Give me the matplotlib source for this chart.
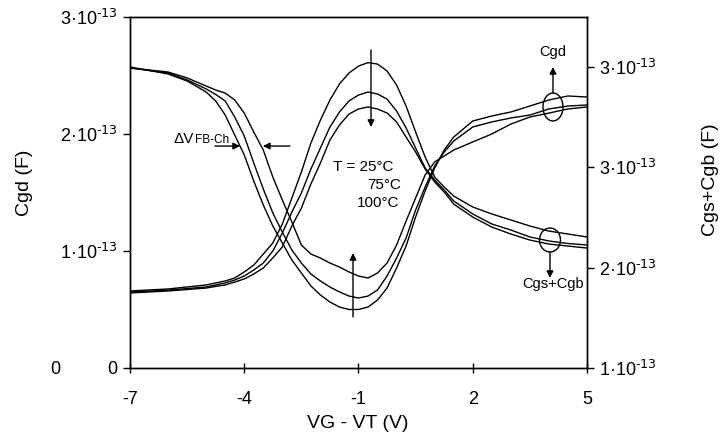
import numpy as np
import matplotlib
matplotlib.use("Agg")
import matplotlib.pyplot as plt
from matplotlib.patches import Ellipse
from matplotlib.ticker import FixedLocator, FuncFormatter

plt.rcParams["font.family"] = ["Liberation Sans", "DejaVu Sans"]
plt.rcParams["mathtext.default"] = "regular"
plt.rcParams["axes.unicode_minus"] = False

# Gate overdrive VG - VT (V)
vg = [-7, -6, -5.5, -5, -4.75, -4.5, -4.25, -4, -3.75, -3.5, -3.25, -3, -2.75,
      -2.5, -2.25, -2, -1.75, -1.5, -1.25, -1, -0.75, -0.5, -0.25, 0, 0.25,
      0.5, 0.75, 1, 1.25, 1.5, 2, 2.5, 3, 3.5, 4, 4.5, 5]

# Cgd (units of 1e-13 F) at 25, 75, 100 degC
cgd_25 = [2.573, 2.513, 2.453, 2.359, 2.282, 2.162, 1.991, 1.821, 1.598, 1.393,
          1.214, 1.068, 0.923, 0.812, 0.701, 0.624, 0.564, 0.521, 0.500, 0.500,
          0.521, 0.581, 0.684, 0.855, 1.043, 1.291, 1.513, 1.709, 1.863, 1.974,
          2.111, 2.154, 2.188, 2.239, 2.291, 2.325, 2.316]
cgd_75 = [2.564, 2.521, 2.462, 2.385, 2.338, 2.282, 2.145, 1.983, 1.752, 1.530,
          1.325, 1.162, 1.009, 0.897, 0.803, 0.744, 0.692, 0.650, 0.615, 0.598,
          0.615, 0.667, 0.786, 0.940, 1.111, 1.350, 1.547, 1.726, 1.846, 1.940,
          2.060, 2.103, 2.137, 2.162, 2.214, 2.239, 2.248]
cgd_100 = [2.564, 2.530, 2.479, 2.410, 2.376, 2.350, 2.291, 2.179, 2.017, 1.863,
           1.632, 1.436, 1.248, 1.051, 0.974, 0.940, 0.897, 0.863, 0.821, 0.786,
           0.769, 0.812, 0.897, 1.051, 1.256, 1.453, 1.650, 1.761, 1.812, 1.863,
           1.932, 2.000, 2.085, 2.145, 2.179, 2.214, 2.231]

# Cgs+Cgb (units of 1e-13 F) at 25, 75, 100 degC
cgsb_25 = [1.576, 1.591, 1.606, 1.621, 1.636, 1.651, 1.673, 1.718, 1.770, 1.852,
           1.935, 2.077, 2.271, 2.466, 2.682, 2.854, 3.004, 3.124, 3.206, 3.258,
           3.284, 3.273, 3.221, 3.116, 2.959, 2.765, 2.578, 2.428, 2.353, 2.286,
           2.204, 2.152, 2.107, 2.062, 2.024, 2.002, 1.980]
cgsb_75 = [1.568, 1.583, 1.594, 1.606, 1.621, 1.636, 1.658, 1.688, 1.733, 1.785,
           1.875, 2.009, 2.166, 2.309, 2.488, 2.645, 2.802, 2.914, 2.997, 3.041,
           3.064, 3.049, 3.011, 2.922, 2.795, 2.645, 2.496, 2.406, 2.331, 2.249,
           2.152, 2.077, 2.032, 1.980, 1.950, 1.931, 1.920]
cgsb_100 = [1.561, 1.576, 1.587, 1.598, 1.610, 1.621, 1.643, 1.666, 1.703, 1.748,
            1.823, 1.905, 2.062, 2.196, 2.376, 2.533, 2.705, 2.817, 2.899, 2.937,
            2.952, 2.937, 2.907, 2.840, 2.727, 2.615, 2.488, 2.391, 2.316, 2.226,
            2.129, 2.054, 2.002, 1.957, 1.927, 1.912, 1.897]

x_ticks = [-7, -4, -1, 2, 5]
left_ticks = [0, 1e-13, 2e-13, 3e-13]
right_ticks = [1.0e-13, 1.75e-13, 2.5e-13, 3.25e-13]
temps = ["T = 25°C", "75°C", "100°C"]

scale = 1e-13
FS_TICK = 13
FS_LABEL = 14
FS_NOTE = 10.5

fig = plt.figure(figsize=(7.22, 4.40), dpi=100)
ax = fig.add_axes([130 / 722, 1 - 368 / 440, 457 / 722, 351 / 440])
ax2 = ax.twinx()

line_kw = dict(color="black", lw=1.0, solid_joinstyle="round")
for s in (cgd_25, cgd_75, cgd_100):
    ax.plot(vg, np.array(s) * scale, **line_kw)
for s in (cgsb_25, cgsb_75, cgsb_100):
    ax2.plot(vg, np.array(s) * scale, **line_kw)

ax.set_xlim(-7, 5)
ax.set_ylim(0, 3e-13)
ax2.set_ylim(1.0e-13, 3.625e-13)


def sci_label(v, pos=None):
    # mantissa rounded to a whole number, exponent fixed at -13
    if v == 0:
        return "0"
    m = int(np.floor(v / scale + 0.5))
    return r"%d·10$^{\text{-13}}$" % m


ax.xaxis.set_major_locator(FixedLocator(x_ticks))
ax.yaxis.set_major_locator(FixedLocator(left_ticks))
ax.yaxis.set_major_formatter(FuncFormatter(sci_label))
ax2.yaxis.set_major_locator(FixedLocator(right_ticks))
ax2.yaxis.set_major_formatter(FuncFormatter(sci_label))
ax.set_xticklabels([str(t) for t in x_ticks])

ax.tick_params(axis="y", direction="out", length=5, width=1, labelsize=FS_TICK, pad=4)
ax.tick_params(axis="x", direction="inout", length=7, width=1, labelsize=FS_TICK, pad=13)
ax2.tick_params(axis="y", direction="out", length=5, width=1, labelsize=FS_TICK, pad=4)

for a in (ax, ax2):
    for sp in a.spines.values():
        sp.set_linewidth(1.0)
        sp.set_color("black")

ax.set_xlabel("VG - VT (V)", fontsize=FS_LABEL)
ax.xaxis.set_label_coords(0.499, -0.135)
ax.set_ylabel("Cgd (F)", fontsize=FS_LABEL)
ax.yaxis.set_label_coords(-0.212, 0.527)
ax2.set_ylabel("Cgs+Cgb (F)", fontsize=FS_LABEL, rotation=90)
ax2.yaxis.set_label_coords(1.2527, 0.536)

fig.text(55 / 722, 1 - 369 / 440, "0", fontsize=FS_TICK, ha="center", va="center")

arrow_kw = dict(arrowstyle="-|>", color="black", lw=1.0, mutation_scale=10,
                shrinkA=0, shrinkB=0)

# flat-band shift markers
ax.text(-5.87, 1.925e-13, "ΔV", fontsize=11, ha="left", va="baseline")
ax.text(-5.29, 1.925e-13, "FB-Ch", fontsize=8.5, ha="left", va="baseline")
ax.annotate("", xy=(-4.11, 1.897e-13), xytext=(-4.77, 1.897e-13), arrowprops=arrow_kw)
ax.annotate("", xy=(-3.51, 1.897e-13), xytext=(-2.80, 1.897e-13), arrowprops=arrow_kw)

# temperature trend arrows
ax.annotate("", xy=(-0.672, 2.06e-13), xytext=(-0.672, 2.718e-13), arrowprops=arrow_kw)
ax.annotate("", xy=(-1.144, 0.983e-13), xytext=(-1.144, 0.436e-13), arrowprops=arrow_kw)
ax.text(-1.67, 1.718e-13, temps[0], fontsize=FS_NOTE + 0.5, ha="left", va="center")
ax.text(-0.777, 1.564e-13, temps[1], fontsize=FS_NOTE + 0.5, ha="left", va="center")
ax.text(-1.04, 1.410e-13, temps[2], fontsize=FS_NOTE + 0.5, ha="left", va="center")

# curve family markers
ax.add_patch(Ellipse((4.107, 2.231e-13), 0.525, 0.239e-13, fill=False,
                     edgecolor="black", lw=1.0))
ax.annotate("", xy=(4.107, 2.573e-13), xytext=(4.107, 2.35e-13), arrowprops=arrow_kw)
ax.text(4.107, 2.70e-13, "Cgd", fontsize=FS_NOTE, ha="center", va="center")

ax.add_patch(Ellipse((4.028, 1.094e-13), 0.551, 0.205e-13, fill=False,
                     edgecolor="black", lw=1.0))
ax.annotate("", xy=(4.028, 0.769e-13), xytext=(4.028, 0.991e-13), arrowprops=arrow_kw)
ax.text(4.10, 0.72e-13, "Cgs+Cgb", fontsize=FS_NOTE, ha="center", va="center")

fig.savefig("out.png", dpi=100)
